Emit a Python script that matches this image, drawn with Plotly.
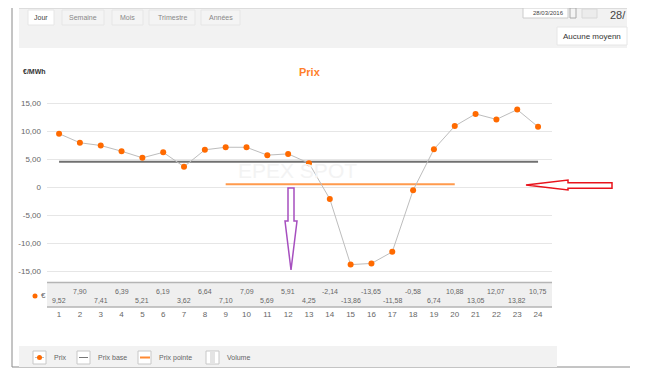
import plotly.graph_objects as go

W, H = 665, 385
OFF = 8  # the page body adds an 8px margin; lay out in window pixels and compensate

# ---------------- data ----------------
hours = list(range(1, 25))
prices = [9.52, 7.90, 7.41, 6.39, 5.21, 6.19, 3.62, 6.64, 7.10, 7.09, 5.69, 5.91,
          4.25, -2.14, -13.86, -13.65, -11.58, -0.58, 6.74, 10.88, 13.05, 12.07, 13.82, 10.75]
base_hours = [1, 24]
base_price = 4.52
peak_hours = [9, 20]
peak_price = 0.49
y_ticks = [-15, -10, -5, 0, 5, 10, 15]
y_tick_labels = ["-15,00", "-10,00", "-5,00", "0", "5,00", "10,00", "15,00"]
tabs = ["Jour", "Semaine", "Mois", "Trimestre", "Années"]
legend_items = ["Prix", "Prix base", "Prix pointe", "Volume"]

FONT = "Liberation Sans, Arial, sans-serif"
FW, FH = W - OFF, H - OFF


def px(x):
    return (x - OFF) / FW


def py(y):
    return 1 - (y - OFF) / FH


def fmt(v):
    return f"{v:.2f}".replace(".", ",")


fig = go.Figure()
fig.add_trace(go.Scatter(x=base_hours, y=[base_price] * 2, mode="lines",
                         line=dict(color="#707070", width=2), name="Prix base",
                         hoverinfo="skip"))
fig.add_trace(go.Scatter(x=peak_hours, y=[peak_price] * 2, mode="lines",
                         line=dict(color="#ff9a4d", width=2), name="Prix pointe",
                         hoverinfo="skip"))
fig.add_trace(go.Scatter(x=hours, y=prices, mode="lines+markers",
                         line=dict(color="#bdbdbd", width=1),
                         marker=dict(color="#ff6a00", size=6), name="Prix"))

shapes = []
ann = []


def rect(x0, y0, x1, y1, fill, line=None, lw=1, layer="below"):
    shapes.append(dict(type="rect", xref="paper", yref="paper",
                       x0=px(x0), x1=px(x1), y0=py(y1), y1=py(y0),
                       fillcolor=fill, line=dict(color=line or fill, width=lw if line else 0),
                       layer=layer))


def hline(x0, x1, y, color, lw=1, layer="below"):
    shapes.append(dict(type="line", xref="paper", yref="paper",
                       x0=px(x0), x1=px(x1), y0=py(y), y1=py(y),
                       line=dict(color=color, width=lw), layer=layer))


def vline(x, y0, y1, color, lw=1, layer="below"):
    shapes.append(dict(type="line", xref="paper", yref="paper",
                       x0=px(x), x1=px(x), y0=py(y0), y1=py(y1),
                       line=dict(color=color, width=lw), layer=layer))


def text(x, y, s, size=7, color="#666", anchor="left", bold=False, xref="paper"):
    ann.append(dict(x=px(x) if xref == "paper" else x, y=py(y), xref=xref, yref="paper",
                    text=f"<b>{s}</b>" if bold else s, showarrow=False,
                    xanchor=anchor, yanchor="middle",
                    font=dict(family=FONT, size=size, color=color)))


def poly(points, color, lw=1.5):
    d = "M " + " L ".join(f"{px(x)},{py(y)}" for x, y in points) + " Z"
    shapes.append(dict(type="path", xref="paper", yref="paper", path=d,
                       line=dict(color=color, width=lw), fillcolor="rgba(0,0,0,0)",
                       layer="above"))


# page frame
vline(12, 0, 367, "#8a8a8a")
hline(12, 630, 367, "#8a8a8a")

# top toolbar panel
rect(19, 8, 627, 48, "#f2f2f2")
hline(19, 627, 8.5, "#dcdcdc")
tab_x = [(28, 54), (62, 104), (112, 143), (149, 195), (201, 240)]
for i, (t, (a, b)) in enumerate(zip(tabs, tab_x)):
    rect(a, 10, b, 25, "#ffffff" if i == 0 else "#f4f4f4", line="#e6e6e6")
    text((a + b) / 2, 17.5, t, size=7, color="#444" if i == 0 else "#888", anchor="center")
rect(523, 8, 568, 18, "#ffffff", line="#cccccc")
text(566, 13, "28/03/2016", size=6, color="#444", anchor="right")
rect(570, 8, 576, 18, "#f4f4f4", line="#aaaaaa")
rect(582, 9, 597, 18, "#ececec", line="#d8d8d8")
text(608, 14.5, "28/", size=11, color="#444")
rect(557, 27, 627, 45, "#ffffff", line="#e6e6e6")
text(561, 36, "Aucune moyenn", size=8, color="#333")

# chart titles
text(21, 72, "€/MWh", size=7, color="#333", bold=True)
text(310, 72, "Prix", size=11, color="#ff7f2a", anchor="center", bold=True)
ann.append(dict(x=px(297), y=py(170), xref="paper", yref="paper", text="EPEX SPOT",
                showarrow=False, font=dict(family=FONT, size=21, color="#f3f3f3"),
                xanchor="center", yanchor="middle"))

# data table band
rect(47, 282, 552, 307, "#efefef")
hline(47, 552, 282.5, "#b5b5b5", 1.5)
hline(47, 552, 307, "#b5b5b5", 1.5)
shapes.append(dict(type="circle", xref="paper", yref="paper",
                   x0=px(32.5), x1=px(37.5), y0=py(298.5), y1=py(293.5),
                   fillcolor="#ff6a00", line=dict(width=0), layer="above"))
text(39, 295.5, "€", size=8, color="#666")
for h, v in zip(hours, prices):
    text(h, 291 if h % 2 == 0 else 300.5, fmt(v), size=7, color="#666",
         anchor="center", xref="x")

# legend panel
rect(19, 346, 557, 367, "#f2f2f2")
icon_x = [33, 77, 138, 206]
for name, ix in zip(legend_items, icon_x):
    rect(ix, 351, ix + 13, 364, "#ffffff", line="#c8c8c8")
    text(ix + 19, 357.5, name, size=7, color="#666")
hline(35, 44, 357.5, "#bbbbbb", 1, layer="above")
shapes.append(dict(type="circle", xref="paper", yref="paper",
                   x0=px(37), x1=px(42), y0=py(360), y1=py(355),
                   fillcolor="#ff6a00", line=dict(width=0), layer="above"))
hline(79, 88, 357.5, "#777777", 1, layer="above")
hline(140, 150, 357.5, "#ff8a33", 2, layer="above")
rect(210, 352, 215, 363.5, "#e4e4e4", layer="above")

# hand-drawn arrows
poly([(288, 188), (294, 188), (294, 221), (297, 221), (291, 270), (285, 221), (288, 221)],
     "#a64fbf")
poly([(526, 185), (568, 180), (568, 182.7), (612, 182.7), (612, 188.3), (568, 188.3), (568, 190)],
     "#e8141c")

fig.update_layout(
    width=FW, height=FH, template="none",
    margin=dict(l=0, r=0, t=0, b=0, pad=0),
    paper_bgcolor="#ffffff", plot_bgcolor="rgba(0,0,0,0)",
    showlegend=False, shapes=shapes, annotations=ann,
    xaxis=dict(domain=[px(47), px(552)], range=[0.42, 24.67], tickvals=hours,
               ticktext=[str(h) for h in hours], showgrid=False, zeroline=False,
               showline=False, ticks="", automargin=False,
               tickfont=dict(family=FONT, size=8, color="#666")),
    yaxis=dict(domain=[py(308), py(90)], range=[(187 - 308) / 5.6, (187 - 90) / 5.6],
               tickvals=y_ticks, ticktext=y_tick_labels, showgrid=True,
               gridcolor="#e6e6e6", gridwidth=1, zeroline=False, showline=False,
               ticks="", automargin=False, ticklabelstandoff=5,
               tickfont=dict(family=FONT, size=8, color="#666")),
)

fig.write_html("out.html")
